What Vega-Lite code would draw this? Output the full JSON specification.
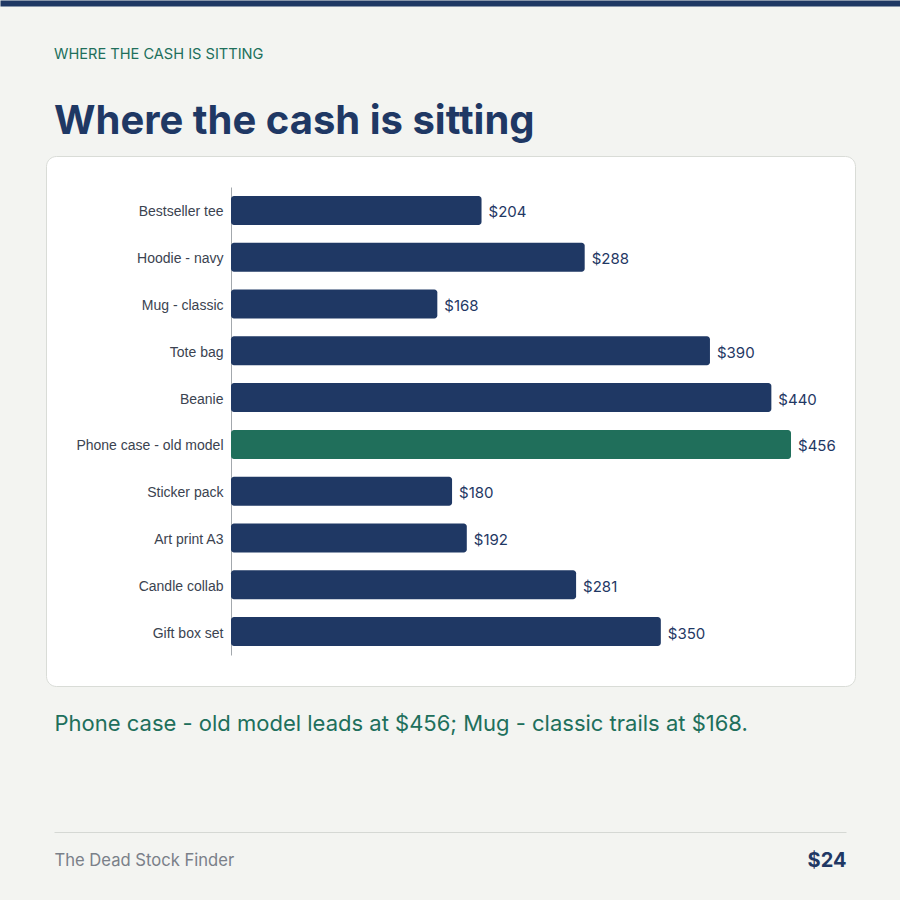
{
  "$schema": "https://vega.github.io/schema/vega-lite/v6.json",
  "width": 809,
  "height": 530,
  "autosize": {"type": "none"},
  "padding": {"left": 46, "top": 156, "right": 45, "bottom": 214},
  "background": "#f3f4f1",
  "view": {"fill": "#ffffff", "stroke": "#d9dcd7", "strokeWidth": 1, "cornerRadius": 10},
  "title": {
    "text": "WHERE THE CASH IS SITTING",
    "subtitle": "Where the cash is sitting",
    "anchor": "start",
    "frame": "group",
    "dx": 8,
    "offset": -139,
    "font": "Inter",
    "fontSize": 14.6,
    "fontWeight": 400,
    "color": "#206f5b",
    "subtitleFont": "Inter",
    "subtitleFontSize": 40,
    "subtitleFontWeight": 700,
    "subtitleColor": "#1f3864",
    "subtitlePadding": 40
  },
  "layer": [
    {
      "data": {
        "values": [
          {"item": "Bestseller tee", "value": 204},
          {"item": "Hoodie - navy", "value": 288},
          {"item": "Mug - classic", "value": 168},
          {"item": "Tote bag", "value": 390},
          {"item": "Beanie", "value": 440},
          {"item": "Phone case - old model", "value": 456},
          {"item": "Sticker pack", "value": 180},
          {"item": "Art print A3", "value": 192},
          {"item": "Candle collab", "value": 281},
          {"item": "Gift box set", "value": 350}
        ]
      },
      "encoding": {
        "y": {
          "field": "item",
          "type": "nominal",
          "sort": null,
          "scale": {"range": [31, 499], "paddingInner": 0.38, "paddingOuter": 0.19},
          "axis": {
            "orient": "left",
            "offset": -185,
            "title": null,
            "ticks": false,
            "domain": true,
            "domainColor": "#a3a8ad",
            "domainWidth": 1,
            "labelPadding": 8,
            "labelOffset": 2,
            "labelFont": "Liberation Sans",
            "labelFontSize": 14,
            "labelColor": "#3b4350",
            "grid": false
          }
        },
        "x": {
          "field": "value",
          "type": "quantitative",
          "scale": {"domain": [-188.1, 544.75], "range": [-46, 854], "nice": false, "zero": false},
          "axis": {
            "orient": "top",
            "offset": 153,
            "title": null,
            "labels": false,
            "ticks": false,
            "grid": false,
            "domain": true,
            "domainColor": "#1f3864",
            "domainWidth": 6
          }
        }
      },
      "layer": [
        {
          "mark": {"type": "bar", "cornerRadius": 3},
          "encoding": {
            "x2": {"datum": 0},
            "color": {
              "condition": {"test": "datum.item === 'Phone case - old model'", "value": "#206f5b"},
              "value": "#1f3864"
            }
          }
        },
        {
          "mark": {"type": "text", "align": "left", "baseline": "middle", "dx": 7, "dy": 2, "font": "Inter", "fontSize": 15, "color": "#1f3864"},
          "encoding": {
            "text": {"field": "value", "type": "quantitative", "format": "$.0f"}
          }
        }
      ]
    },
    {
      "data": {"values": [{"footer": "The Dead Stock Finder"}, {"footer": "$24"}]},
      "mark": {"type": "point", "opacity": 0, "size": 0},
      "encoding": {
        "x": {
          "field": "footer",
          "type": "nominal",
          "sort": null,
          "scale": {"type": "point", "range": [8, 800], "padding": 0},
          "axis": {
            "orient": "bottom",
            "offset": 146,
            "ticks": false,
            "grid": false,
            "domain": true,
            "domainColor": "#d5d8d4",
            "domainWidth": 1,
            "labelFlush": true,
            "labelAngle": 0,
            "labelPadding": 28,
            "labelFont": "Inter",
            "labelFontSize": {"condition": {"test": "datum.value === '$24'", "value": 20}, "value": 16.6},
            "labelFontWeight": {"condition": {"test": "datum.value === '$24'", "value": 700}, "value": 400},
            "labelColor": {"condition": {"test": "datum.value === '$24'", "value": "#1f3864"}, "value": "#7a8089"},
            "labelBaseline": "middle",
            "title": "Phone case - old model leads at $456; Mug - classic trails at $168.",
            "titleX": 8,
            "titleY": -109,
            "titleAnchor": "start",
            "titleAlign": "left",
            "titleBaseline": "middle",
            "titleFont": "Inter",
            "titleFontSize": 22,
            "titleFontWeight": 400,
            "titleColor": "#206f5b"
          }
        }
      }
    }
  ],
  "resolve": {"scale": {"x": "independent"}, "axis": {"x": "independent"}}
}
